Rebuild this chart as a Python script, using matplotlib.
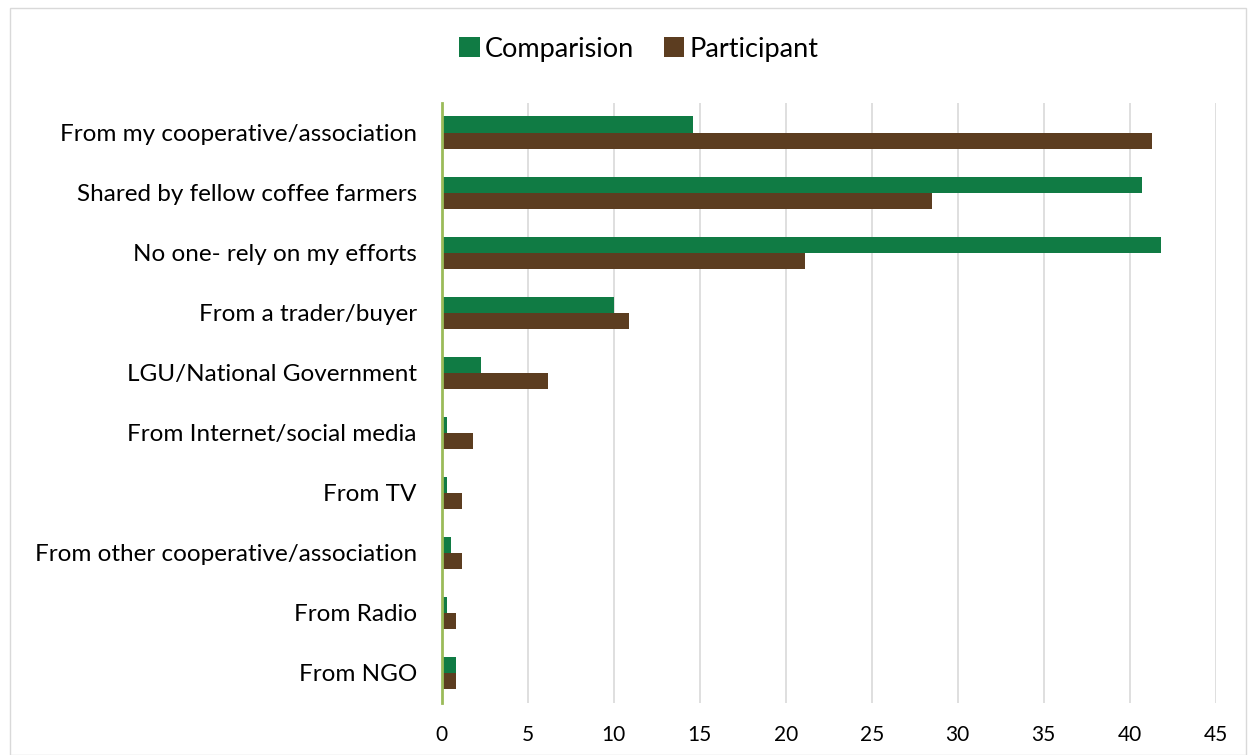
import numpy as np
import matplotlib.pyplot as plt
from matplotlib.patches import Rectangle

categories = [
    'From my cooperative/association',
    'Shared by fellow coffee farmers',
    'No one- rely on my efforts',
    'From a trader/buyer',
    'LGU/National Government',
    'From Internet/social media',
    'From TV',
    'From other cooperative/association',
    'From Radio',
    'From NGO',
]
comparision = [14.6, 40.7, 41.8, 10.0, 2.3, 0.28, 0.28, 0.56, 0.28, 0.85]
participant = [41.3, 28.5, 21.1, 10.9, 6.2, 1.8, 1.2, 1.2, 0.85, 0.85]

green = '#107B44'
brown = '#5C3D20'

plt.rcParams['font.family'] = ['Lato', 'DejaVu Sans']

fig = plt.figure(figsize=(12.48, 7.55), dpi=100)
ax = fig.add_axes([0.354, 0.069, 0.62, 0.795])

y = np.arange(len(categories))
h = 0.27
ax.barh(y - h / 2, comparision, height=h, color=green, label='Comparision', zorder=3)
ax.barh(y + h / 2, participant, height=h, color=brown, label='Participant', zorder=3)

ax.set_ylim(len(categories) - 0.5, -0.5)
ax.set_xlim(0, 45)
ax.set_xticks(np.arange(0, 46, 5))
ax.set_yticks(y)
ax.set_yticklabels(categories, fontsize=17.5)
ax.tick_params(axis='x', labelsize=15, length=0, pad=16)
ax.tick_params(axis='y', length=0, pad=18)
ax.grid(axis='x', color='#D9D9D9', linewidth=1.2, zorder=0)

for side in ['top', 'right', 'bottom']:
    ax.spines[side].set_visible(False)
ax.spines['left'].set_color('#9BBB59')
ax.spines['left'].set_linewidth(2)
ax.spines['left'].set_zorder(4)

fig.legend(loc='center', bbox_to_anchor=(0.512, 0.935), ncol=2, frameon=False,
           fontsize=19.5, handlelength=0.75, handleheight=0.75, handletextpad=0.2,
           columnspacing=1.1)

# thin frame around the whole chart
fig.patches.append(Rectangle((0.008, 0.0), 0.99, 0.99, transform=fig.transFigure,
                             fill=False, edgecolor='#D9D9D9', linewidth=1))

fig.savefig('out.png', dpi=100)
